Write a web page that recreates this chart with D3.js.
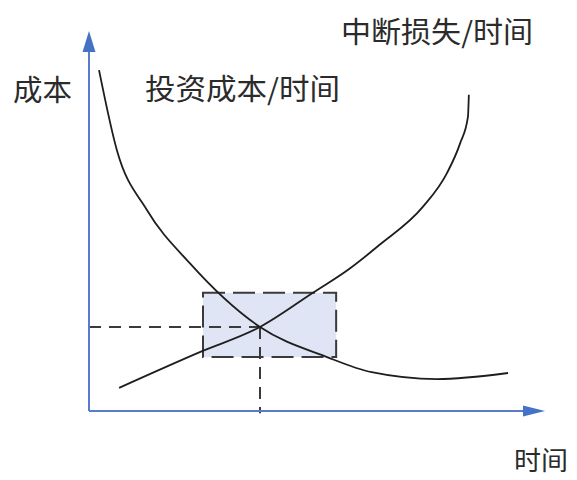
<!DOCTYPE html>
<html>
<head>
<meta charset="utf-8">
<script src="https://cdn.jsdelivr.net/npm/d3@7/dist/d3.min.js"></script>
<style>
  body { margin: 0; background: #fff; }
  text { font-family: "Noto Sans CJK SC", "Noto Sans", sans-serif; fill: #2b2b2b; }
</style>
</head>
<body>
<div id="chart"></div>
<script>
// DATA (x: time, y: cost, both on a 0..100 scale)
const investCost = [
  [2.2, 89.7], [6.1, 68.7], [12.7, 52.9], [22.1, 38.9], [37.5, 22.1],
  [52.2, 14.2], [62.0, 10.2], [76.3, 8.4], [91.9, 10.0]
];
const lossCost = [
  [6.6, 6.1], [24.3, 15.5], [37.5, 22.1], [49.1, 31.1], [57.2, 37.5],
  [63.8, 43.8], [73.2, 53.7], [78.5, 62.6], [81.4, 70.5], [83.1, 77.4],
  [83.3, 83.2]
];
const crossPoint = [37.5, 22.1];
const optimalZone = { x0: 25.0, x1: 54.2, y0: 14.2, y1: 31.1 };
const labels = ["成本", "投资成本/时间", "中断损失/时间", "时间"];

const width = 577, height = 480;

// SCALES
const xScale = d3.scaleLinear().domain([0, 100]).range([89, 545]);
const yScale = d3.scaleLinear().domain([0, 100]).range([411, 31]);

const svg = d3.select("#chart")
  .append("svg")
  .attr("width", width)
  .attr("height", height);

// shaded zone
svg.append("rect")
  .attr("x", xScale(optimalZone.x0))
  .attr("y", yScale(optimalZone.y1))
  .attr("width", xScale(optimalZone.x1) - xScale(optimalZone.x0))
  .attr("height", yScale(optimalZone.y0) - yScale(optimalZone.y1))
  .attr("fill", "#dfe5f4")
  .attr("stroke", "#3a3a3a")
  .attr("stroke-width", 2)
  .style("stroke-dasharray", "22, 8");

// dashed guides to the crossing
svg.append("line")
  .attr("x1", xScale(0)).attr("y1", yScale(crossPoint[1]))
  .attr("x2", xScale(crossPoint[0])).attr("y2", yScale(crossPoint[1]))
  .attr("stroke", "#3a3a3a").attr("stroke-width", 2)
  .style("stroke-dasharray", "12, 8");

svg.append("line")
  .attr("x1", xScale(crossPoint[0])).attr("y1", yScale(crossPoint[1]))
  .attr("x2", xScale(crossPoint[0])).attr("y2", yScale(-0.6))
  .attr("stroke", "#3a3a3a").attr("stroke-width", 2)
  .style("stroke-dasharray", "12, 8");

// curves
const line = d3.line()
  .x((d) => xScale(d[0]))
  .y((d) => yScale(d[1]))
  .curve(d3.curveMonotoneX);

svg.selectAll(".curve")
  .data([investCost, lossCost])
  .join("path")
  .attr("class", "curve")
  .attr("d", line)
  .attr("fill", "none")
  .attr("stroke", "#1e1e1e")
  .attr("stroke-width", 1.8);

// AXES with arrows
const axisColor = "#5a7bcb";
svg.append("line")
  .attr("x1", xScale(0)).attr("y1", yScale(0))
  .attr("x2", xScale(96)).attr("y2", yScale(0))
  .attr("stroke", axisColor).attr("stroke-width", 2);

svg.append("line")
  .attr("x1", xScale(0)).attr("y1", yScale(0))
  .attr("x2", xScale(0)).attr("y2", yScale(95))
  .attr("stroke", axisColor).attr("stroke-width", 2);

const xa = xScale(100), ya = yScale(0);
svg.append("path")
  .attr("d", `M${xa},${ya} L${xa - 22},${ya - 5.5} L${xa - 22},${ya + 5.5} Z`)
  .attr("fill", "#4472c4");

const xb = xScale(0), yb = yScale(100);
svg.append("path")
  .attr("d", `M${xb},${yb} L${xb - 6.5},${yb + 21} L${xb + 6.5},${yb + 21} Z`)
  .attr("fill", "#4472c4");

// labels
const labelPos = [
  { x: 13, y: 101, w: 59, size: 29 },
  { x: 145, y: 100, w: 195, size: 29 },
  { x: 341, y: 43, w: 192, size: 29 },
  { x: 514, y: 470, w: 54, size: 26 }
];

svg.selectAll(".label")
  .data(labels)
  .join("text")
  .attr("class", "label")
  .attr("x", (d, i) => labelPos[i].x)
  .attr("y", (d, i) => labelPos[i].y)
  .attr("textLength", (d, i) => labelPos[i].w)
  .attr("lengthAdjust", "spacingAndGlyphs")
  .style("font-size", (d, i) => labelPos[i].size + "px")
  .text((d) => d);
</script>
</body>
</html>
